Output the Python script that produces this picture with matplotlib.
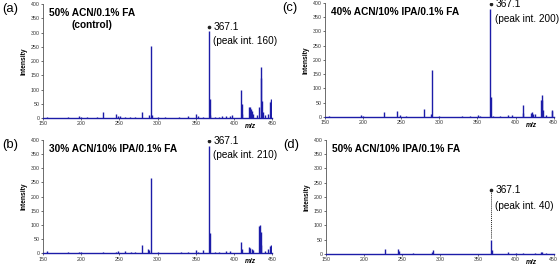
import matplotlib.pyplot as plt

plt.rcParams['font.family'] = ['Liberation Sans', 'DejaVu Sans']

# peak lists (m/z, intensity)
mz_a = [155, 183, 197, 200, 208, 221, 228, 245, 248, 251, 257, 264, 270, 280, 289, 291, 292,
        300, 310, 328, 340, 350, 353, 360, 367, 368, 369, 375, 380, 384, 390, 395, 398,
        409, 410, 411, 420, 421, 422, 423, 425, 430, 433, 435, 436, 437, 438, 440, 445,
        447, 448, 449]
int_a = [5, 3, 7, 5, 4, 3, 20, 15, 8, 6, 5, 3, 3, 20, 12, 252, 10,
         3, 2, 5, 7, 15, 8, 5, 305, 65, 10, 3, 5, 6, 6, 8, 10,
         100, 50, 15, 40, 38, 30, 25, 15, 12, 40, 180, 140, 60, 20, 10, 15,
         55, 65, 60]

mz_b = [155, 183, 197, 200, 228, 245, 248, 257, 265, 270, 280, 288, 289, 291, 300, 330, 340,
        350, 353, 360, 367, 368, 375, 380, 390, 395, 409, 410, 420, 421, 423, 425, 433,
        434, 435, 436, 440, 445, 447, 448]
int_b = [6, 3, 5, 4, 4, 5, 8, 8, 4, 3, 30, 15, 10, 265, 3, 5, 4,
         12, 5, 10, 378, 72, 4, 3, 8, 7, 40, 15, 20, 18, 15, 10, 95,
         98, 75, 30, 8, 15, 25, 28]

mz_c = [155, 197, 200, 228, 245, 248, 257, 280, 289, 291, 300, 330, 340, 351, 353, 367, 368,
        370, 380, 390, 395, 409, 410, 420, 421, 423, 425, 433, 434, 435, 436, 440, 447, 448]
int_c = [5, 6, 4, 18, 20, 8, 4, 28, 10, 165, 3, 3, 4, 8, 5, 380, 70,
         5, 3, 7, 6, 42, 15, 15, 18, 12, 10, 60, 78, 60, 25, 8, 20, 25]

mz_d = [228, 245, 246, 265, 290, 291, 367, 368, 390, 400, 410, 425, 433, 434, 440]
int_d = [17, 18, 10, 3, 8, 14, 50, 12, 8, 3, 3, 3, 6, 5, 3]

titles = ['50% ACN/0.1% FA', '30% ACN/10% IPA/0.1% FA',
          '40% ACN/10% IPA/0.1% FA', '50% ACN/10% IPA/0.1% FA']
letters = ['(a)', '(b)', '(c)', '(d)']
peak_int = [160, 210, 200, 40]
label_y = [319, 397, 395, 225]

blue = '#1c1ca8'

fig = plt.figure(figsize=(5.6, 2.67), dpi=100)
boxes = [[0.077, 0.558, 0.409, 0.427],
         [0.077, 0.052, 0.409, 0.424],
         [0.580, 0.562, 0.409, 0.427],
         [0.582, 0.049, 0.407, 0.427]]
spectra = [(mz_a, int_a), (mz_b, int_b), (mz_c, int_c), (mz_d, int_d)]

for i in range(4):
    ax = fig.add_axes(boxes[i])
    mz, inten = spectra[i]
    ax.vlines(mz, 0, inten, color=blue, lw=1.0)
    ax.set_xlim(150, 450)
    ax.set_ylim(0, 400)
    ax.set_xticks(range(150, 451, 50))
    ax.set_yticks(range(0, 401, 50))
    ax.tick_params(labelsize=3.8, length=1.5, width=0.5, pad=1, colors='#333333')
    for s in ['top', 'right']:
        ax.spines[s].set_visible(False)
    ax.spines['left'].set_color('#555555')
    ax.spines['left'].set_linewidth(0.6)
    ax.spines['bottom'].set_color(blue)
    ax.spines['bottom'].set_linewidth(1.0)
    ax.set_ylabel('Intensity', fontsize=4.8, fontweight='bold', labelpad=2)
    ax.text(421, -30, 'm/z', fontsize=4.8, style='italic', fontweight='bold',
            ha='center', va='center', clip_on=False)
    ax.text(158, 368, titles[i], fontsize=7.3, fontweight='bold', va='center')
    if i == 0:
        ax.text(214, 326, '(control)', fontsize=7.3, fontweight='bold',
                ha='center', va='center')
    ax.annotate(letters[i], xy=(0, 1), xycoords='axes fraction',
                xytext=(-41 if i < 2 else -43, -5), textcoords='offset pixels',
                fontsize=9.4, ha='left', va='center', annotation_clip=False)
    ly = label_y[i]
    ax.plot([367.3], [ly], 'o', color='#222222', ms=1.6)
    if i == 3:
        ax.plot([367.3, 367.3], [55, ly], ls=(0, (1, 1)), color='#222222', lw=0.7)
    ax.text(373.5, ly, '367.1', fontsize=7.3, va='center', clip_on=False)
    ax.text(372.7, ly - 50 if i != 3 else ly - 58, '(peak int. %d)' % peak_int[i],
            fontsize=7.2, va='center', clip_on=False)

plt.savefig('out.png', dpi=100)
